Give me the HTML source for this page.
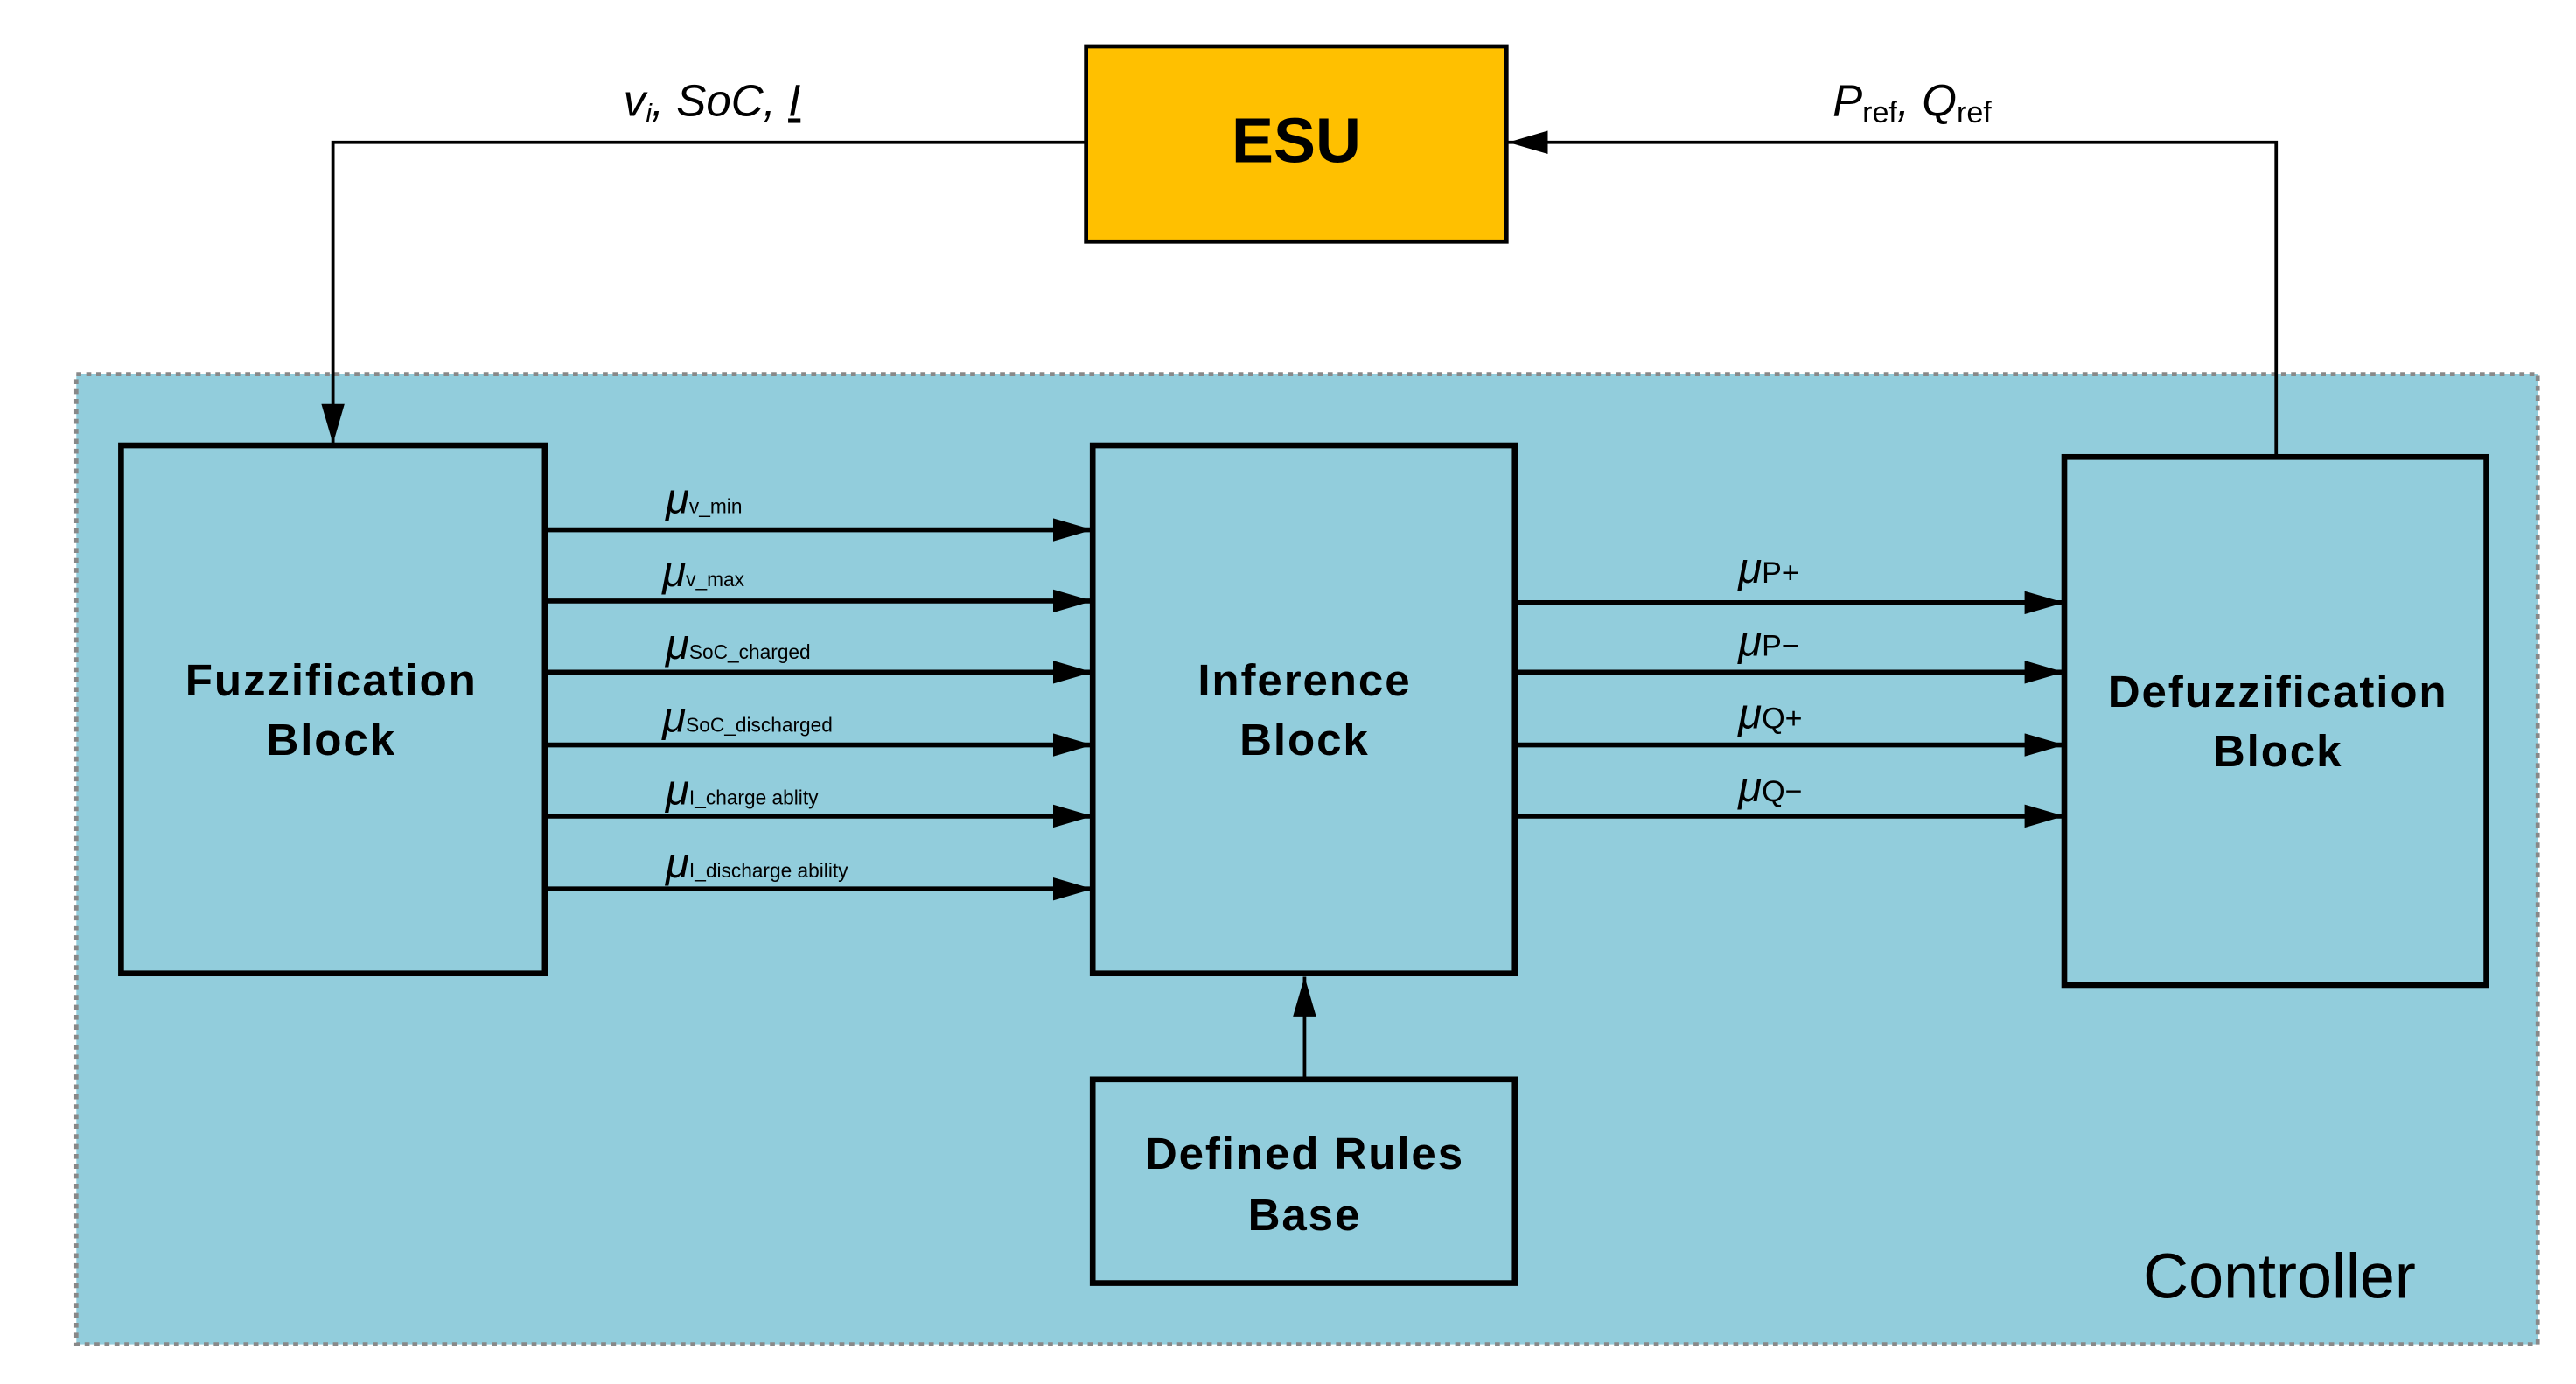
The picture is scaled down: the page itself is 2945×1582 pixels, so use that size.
<!DOCTYPE html>
<html><head><meta charset="utf-8"><style>html,body{margin:0;padding:0;background:#fff}svg{display:block}</style></head><body>
<svg width="2945" height="1582" viewBox="0 0 1556 836" xmlns="http://www.w3.org/2000/svg" font-family="Liberation Sans, Arial, sans-serif">
<defs><marker id="a" markerWidth="12" markerHeight="10" refX="12" refY="5" orient="auto" markerUnits="userSpaceOnUse"><path d="M0,0 L12,5 L0,10 z" fill="#000"/></marker>
<marker id="b" markerWidth="24" markerHeight="14" refX="24" refY="7" orient="auto" markerUnits="userSpaceOnUse"><path d="M0,0 L24,7 L0,14 z" fill="#000"/></marker></defs>
<rect x="46" y="226" width="1487" height="586" fill="#92CDDC" stroke="#888" stroke-width="2.5" stroke-dasharray="3,3"/>
<rect x="656" y="28" width="254" height="118" fill="#FFC000" stroke="#000" stroke-width="2.5"/>
<text x="783" y="98" font-size="38" font-weight="bold" text-anchor="middle">ESU</text>
<g fill="none" stroke="#000" stroke-width="2">
<polyline points="656,86 201,86 201,268" marker-end="url(#b)"/>
<polyline points="1375,276 1375,86 911,86" marker-end="url(#b)"/>
<line x1="788" y1="652" x2="788" y2="590" marker-end="url(#b)"/>
</g>
<g stroke="#000" stroke-width="3">
<line x1="329" y1="320" x2="660" y2="320" marker-end="url(#b)"/>
<line x1="329" y1="363" x2="660" y2="363" marker-end="url(#b)"/>
<line x1="329" y1="406" x2="660" y2="406" marker-end="url(#b)"/>
<line x1="329" y1="450" x2="660" y2="450" marker-end="url(#b)"/>
<line x1="329" y1="493" x2="660" y2="493" marker-end="url(#b)"/>
<line x1="329" y1="537" x2="660" y2="537" marker-end="url(#b)"/>
<line x1="915" y1="364" x2="1247" y2="364" marker-end="url(#b)"/>
<line x1="915" y1="406" x2="1247" y2="406" marker-end="url(#b)"/>
<line x1="915" y1="450" x2="1247" y2="450" marker-end="url(#b)"/>
<line x1="915" y1="493" x2="1247" y2="493" marker-end="url(#b)"/>
</g>
<g fill="#92CDDC" stroke="#000" stroke-width="3.5">
<rect x="73" y="269" width="256" height="319"/>
<rect x="660" y="269" width="255" height="319"/>
<rect x="1247" y="276" width="255" height="319"/>
<rect x="660" y="652" width="255" height="123"/>
</g>
<g font-size="27" font-weight="bold" text-anchor="middle" letter-spacing="1">
<text x="200" y="420">Fuzzification</text><text x="200" y="456">Block</text>
<text x="788" y="420">Inference</text><text x="788" y="456">Block</text>
<text x="1376" y="427">Defuzzification</text><text x="1376" y="463">Block</text>
<text x="788" y="706">Defined Rules</text><text x="788" y="743">Base</text>
</g>
<text x="1377" y="784" font-size="38" text-anchor="middle">Controller</text>
<text x="430" y="70" font-size="27" font-style="italic" text-anchor="middle">v<tspan font-size="16" dy="4">i</tspan><tspan dy="-4">, SoC, </tspan><tspan text-decoration="underline">I</tspan></text>
<text x="1155" y="70" font-size="27" font-style="italic" text-anchor="middle">P<tspan font-size="18" font-style="normal" dy="4">ref</tspan><tspan dy="-4">, Q</tspan><tspan font-size="18" font-style="normal" dy="4">ref</tspan></text>
<g font-size="26" font-style="italic">
<text x="402" y="310">μ<tspan font-size="12" font-style="normal">v_min</tspan></text>
<text x="400" y="354">μ<tspan font-size="12" font-style="normal">v_max</tspan></text>
<text x="402" y="398">μ<tspan font-size="12" font-style="normal">SoC_charged</tspan></text>
<text x="400" y="442">μ<tspan font-size="12" font-style="normal">SoC_discharged</tspan></text>
<text x="402" y="486">μ<tspan font-size="12" font-style="normal">I_charge ablity</tspan></text>
<text x="402" y="530">μ<tspan font-size="12" font-style="normal">I_discharge ability</tspan></text>
<text x="1050" y="352">μ<tspan font-size="18" font-style="normal">P+</tspan></text>
<text x="1050" y="396">μ<tspan font-size="18" font-style="normal">P−</tspan></text>
<text x="1050" y="440">μ<tspan font-size="18" font-style="normal">Q+</tspan></text>
<text x="1050" y="484">μ<tspan font-size="18" font-style="normal">Q−</tspan></text>
</g>
</svg>
</body></html>
